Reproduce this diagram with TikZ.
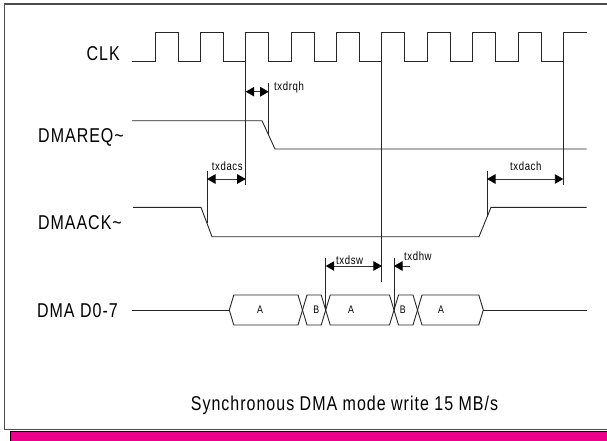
\documentclass[tikz,border=0pt]{standalone}
\usepackage{fontspec}
\setmainfont[FakeStretch=0.8,LetterSpace=5]{Liberation Sans}
\usetikzlibrary{arrows.meta}
\begin{document}
\begin{tikzpicture}[x=1pt,y=-1pt,
  wave/.style={line width=0.9pt,draw=black!85,line join=miter},
  guide/.style={line width=0.9pt,draw=black!85},
  dimarrow/.style={line width=0.9pt,draw=black!80,{Triangle[length=8.5pt,width=9.5pt,fill=black,color=black]}-{Triangle[length=8.5pt,width=9.5pt,fill=black,color=black]}},
  onearrow/.style={line width=0.9pt,draw=black!80,-{Triangle[length=8.5pt,width=9.5pt,fill=black,color=black]}},
  siglabel/.style={font=\fontsize{20}{24}\selectfont,inner sep=0pt,anchor=base east,text=black},
  tlabel/.style={font=\fontsize{12}{14}\selectfont,inner sep=0pt,anchor=base west,text=black},
  dlabel/.style={font=\fontsize{11}{13}\selectfont,inner sep=0pt,text=black},
  caption/.style={font=\fontsize{20}{24}\selectfont,inner sep=0pt,anchor=base,text=black}]
\useasboundingbox (0,0) rectangle (607,440);
% frame and magenta bar
\draw[line width=1.5pt,draw=black!70] (612,429.5) -- (4.7,429.5) -- (4.7,4) -- (612,4);
\filldraw[fill=magenta,draw=black,line width=0.9pt] (10.5,431.5) rectangle (612,446);

% signal labels
\node[siglabel] (clk) at (120,60.7) {CLK};
\node[siglabel] (req) at (124,142) {DMAREQ\textasciitilde};
\node[siglabel] (ack) at (122,229.3) {DMAACK\textasciitilde};
\node[siglabel] (dat) at (118,317) {DMA D0-7};

% CLK waveform
\draw[wave] (132,61.7)
  -- (155,61.7) -- (155,32.7) -- (178,32.7) -- (178,61.7)
  -- (200.4,61.7) -- (200.4,32.7) -- (223.4,32.7) -- (223.4,61.7)
  -- (245.7,61.7) -- (245.7,32.7) -- (268.7,32.7) -- (268.7,61.7)
  -- (291.1,61.7) -- (291.1,32.7) -- (314.1,32.7) -- (314.1,61.7)
  -- (336.5,61.7) -- (336.5,32.7) -- (359.5,32.7) -- (359.5,61.7)
  -- (381.9,61.7) -- (381.9,32.7) -- (404.9,32.7) -- (404.9,61.7)
  -- (427.2,61.7) -- (427.2,32.7) -- (450.2,32.7) -- (450.2,61.7)
  -- (472.6,61.7) -- (472.6,32.7) -- (495.6,32.7) -- (495.6,61.7)
  -- (518,61.7) -- (518,32.7) -- (541,32.7) -- (541,61.7)
  -- (563.3,61.7) -- (563.3,32.7) -- (586.7,32.7);

% DMAREQ~
\draw[wave] (132,120.7) -- (262,120.7) -- (275,149) -- (586.7,149);
% DMAACK~
\draw[wave] (133,207.3) -- (201,207.3) -- (212,236.7) -- (479,236.7) -- (491,207.3) -- (586.7,207.3);

% DMA D0-7 bus
\draw[wave] (132,310) -- (229.3,310);
\draw[wave] (483.3,310) -- (586.7,310);
\draw[wave] (229.3,310) -- (233.8,295) -- (298,295) -- (302.5,310) -- (298,325) -- (233.8,325) -- cycle;
\draw[wave] (302.5,310) -- (307,295) -- (321.2,295) -- (325.7,310) -- (321.2,325) -- (307,325) -- cycle;
\draw[wave] (325.7,310) -- (330.2,295) -- (389.5,295) -- (394,310) -- (389.5,325) -- (330.2,325) -- cycle;
\draw[wave] (394,310) -- (398.5,295) -- (413,295) -- (417.5,310) -- (413,325) -- (398.5,325) -- cycle;
\draw[wave] (417.5,310) -- (422,295) -- (478.8,295) -- (483.3,310) -- (478.8,325) -- (422,325) -- cycle;
\node[dlabel] (a1) at (260,310) {A};
\node[dlabel] (b1) at (316.3,310) {B};
\node[dlabel] (a2) at (351,310) {A};
\node[dlabel] (b2) at (402.8,310) {B};
\node[dlabel] (a3) at (441,310) {A};

% reference verticals
\coordinate (v1t) at (245.7,61.7);  \coordinate (v1b) at (245.7,185);
\coordinate (v2t) at (268.7,83);    \coordinate (v2b) at (268.7,135.3);
\coordinate (v3t) at (381.9,61.7);  \coordinate (v3b) at (381.9,282);
\coordinate (v4t) at (563.3,61.7);  \coordinate (v4b) at (563.3,185);
\coordinate (v5t) at (207,171);     \coordinate (v5b) at (207,223.3);
\coordinate (v6t) at (487,171);     \coordinate (v6b) at (487,217.1);
\coordinate (v7t) at (325.7,258);   \coordinate (v7b) at (325.7,310);
\coordinate (v8t) at (394,258);     \coordinate (v8b) at (394,310);
\foreach \v in {1,...,8} {\draw[guide] (v\v t) -- (v\v b);}

% timing arrows
\coordinate (rqA) at (245.7,91.7); \coordinate (rqB) at (268.7,91.7);
\draw[dimarrow] (rqA) -- (rqB);
\coordinate (acA) at (207,179); \coordinate (acB) at (245.7,179);
\draw[dimarrow] (acA) -- (acB);
\coordinate (ahA) at (487,179); \coordinate (ahB) at (563.3,179);
\draw[dimarrow] (ahA) -- (ahB);
\coordinate (swA) at (325.7,266); \coordinate (swB) at (381.9,266);
\draw[dimarrow] (swA) -- (swB);
\coordinate (hwA) at (410,266); \coordinate (hwB) at (394,266);
\draw[onearrow] (hwA) -- (hwB);

\node[tlabel] (lrqh) at (274,90) {txdrqh};
\node[tlabel] (lacs) at (211.7,170.5) {txdacs};
\node[tlabel] (lach) at (510,170.5) {txdach};
\node[tlabel] (ldsw) at (336,264) {txdsw};
\node[tlabel] (ldhw) at (404,260.5) {txdhw};

% caption
\node[caption] (cap) at (344.5,410) {Synchronous DMA mode write 15 MB/s};
\end{tikzpicture}
\end{document}
